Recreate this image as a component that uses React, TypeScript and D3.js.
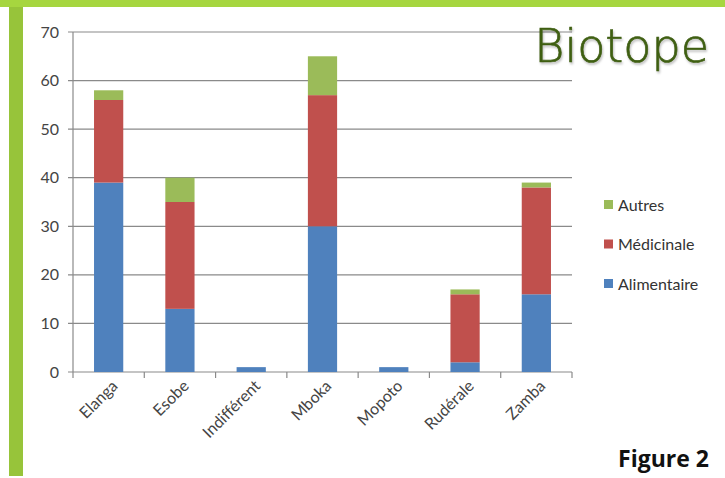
import React from "react";
import { scaleBand, scaleLinear, stack } from "d3";

const categories = ["Elanga", "Esobe", "Indifférent", "Mboka", "Mopoto", "Rudérale", "Zamba"];
const alimentaire = [39, 13, 1, 30, 1, 2, 16];
const medicinale = [17, 22, 0, 27, 0, 14, 22];
const autres = [2, 5, 0, 8, 0, 1, 1];
const seriesNames = ["Alimentaire", "Médicinale", "Autres"];
const yTicks = [0, 10, 20, 30, 40, 50, 60, 70];

const colors: Record<string, string> = {
  Alimentaire: "#4F81BD",
  Médicinale: "#C0504D",
  Autres: "#9BBB59",
};

export default function App() {
  const width = 725;
  const height = 478;
  const left = 73;
  const right = 572;
  const top = 32;
  const bottom = 372;

  const rows = categories.map((c, i) => ({
    cat: c,
    Alimentaire: alimentaire[i],
    Médicinale: medicinale[i],
    Autres: autres[i],
  }));
  const layers = stack<any>().keys(seriesNames)(rows);

  const x = scaleBand().domain(categories).range([left, right]).paddingInner(0.59).paddingOuter(0.295);
  const y = scaleLinear().domain([0, 70]).range([bottom, top]);
  const step = (right - left) / categories.length;

  const font = "Lato, 'Open Sans', sans-serif";

  return (
    <svg width={width} height={height} style={{ position: "absolute", left: 0, top: 0, background: "#fff" }}>
      {/* frame */}
      <rect x={0} y={0} width={width} height={7} fill="#A6D63F" />
      <rect x={9} y={7} width={14} height={469} fill="#97C43A" />

      {/* gridlines + y ticks */}
      {yTicks.map((t) => (
        <g key={t}>
          <line x1={left - 5} x2={right} y1={y(t)} y2={y(t)} stroke="#8a8a8a" strokeWidth={1.2} />
          <text x={59} y={y(t)} dy="0.35em" textAnchor="end" fontFamily={font} fontSize={16} fill="#444">
            {t}
          </text>
        </g>
      ))}
      <line x1={left} x2={left} y1={top} y2={bottom} stroke="#8a8a8a" strokeWidth={1.2} />

      {/* x ticks */}
      {categories.map((c, i) => (
        <line key={c} x1={left + step * (i + 1)} x2={left + step * (i + 1)} y1={bottom} y2={bottom + 6} stroke="#8a8a8a" strokeWidth={1.2} />
      ))}
      <line x1={left} x2={left} y1={bottom} y2={bottom + 6} stroke="#8a8a8a" strokeWidth={1.2} />

      {/* bars */}
      {layers.map((layer) => (
        <g key={layer.key} fill={colors[layer.key]}>
          {layer.map((d: any) =>
            d[1] - d[0] > 0 ? (
              <rect
                key={d.data.cat}
                x={x(d.data.cat)}
                width={x.bandwidth()}
                y={y(d[1])}
                height={y(d[0]) - y(d[1])}
              />
            ) : null
          )}
        </g>
      ))}

      {/* x labels */}
      {categories.map((c) => {
        const cx = (x(c) as number) + x.bandwidth() / 2 + 10;
        const cy = bottom + 15;
        return (
          <text
            key={c}
            x={cx}
            y={cy}
            textAnchor="end"
            fontFamily={font}
            fontSize={16}
            fill="#444"
            transform={`rotate(-45, ${cx}, ${cy})`}
          >
            {c}
          </text>
        );
      })}

      {/* legend */}
      {["Autres", "Médicinale", "Alimentaire"].map((s, i) => (
        <g key={s} transform={`translate(604, ${205 + i * 39.5})`}>
          <rect x={0} y={-5} width={9} height={9} fill={colors[s]} />
          <text x={14} y={0} dy="0.35em" fontFamily={font} fontSize={16} fill="#333">
            {s}
          </text>
        </g>
      ))}

      {/* titles */}
      <text x={709} y={62} textAnchor="end" fontFamily="'DejaVu Sans', sans-serif" fontWeight={200} fontSize={46} fill="#3F5F12" stroke="#3F5F12" strokeWidth={0.7} style={{ filter: "drop-shadow(1px 2px 1px rgba(0,0,0,0.25))" }}>
        Biotope
      </text>
      <text x={709} y={467} textAnchor="end" fontFamily="'Open Sans', sans-serif" fontWeight={700} fontSize={23} fill="#111">
        Figure 2
      </text>
    </svg>
  );
}
